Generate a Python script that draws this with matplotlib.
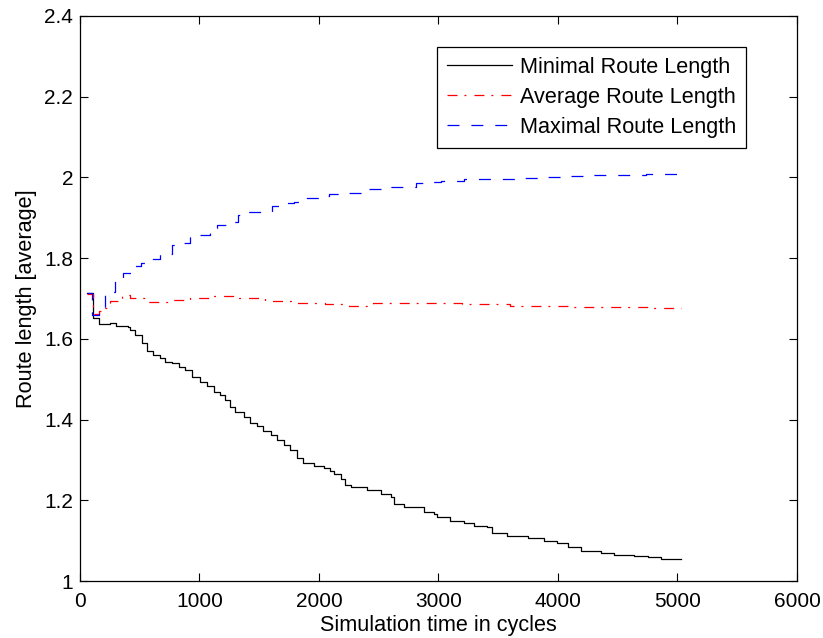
import numpy as np
import matplotlib
matplotlib.use("Agg")
import matplotlib.pyplot as plt

# route length over simulation time

min_x = [60, 105, 160, 250, 305, 400, 420, 460, 515, 560, 615, 670, 710, 770,
         825, 880, 935, 1005, 1060, 1120, 1175, 1215, 1255, 1300, 1370, 1425,
         1480, 1535, 1595, 1650, 1705, 1760, 1815, 1870, 1955, 2040, 2095, 2125,
         2180, 2220, 2265, 2400, 2515, 2600, 2625, 2710, 2810, 2880, 2960, 2990,
         3100, 3210, 3300, 3410, 3450, 3575, 3745, 3885, 3995, 4080, 4190, 4360,
         4470, 4640, 4750, 4860, 5030]
min_y = [1.713, 1.651, 1.637, 1.639, 1.633, 1.630, 1.622, 1.610, 1.590, 1.571,
         1.560, 1.552, 1.543, 1.541, 1.531, 1.523, 1.506, 1.494, 1.482, 1.469,
         1.461, 1.449, 1.432, 1.420, 1.407, 1.391, 1.384, 1.372, 1.362, 1.349,
         1.337, 1.325, 1.304, 1.292, 1.285, 1.279, 1.273, 1.265, 1.254, 1.238,
         1.234, 1.226, 1.216, 1.207, 1.191, 1.184, 1.183, 1.172, 1.166, 1.158,
         1.149, 1.143, 1.136, 1.133, 1.120, 1.112, 1.106, 1.100, 1.093, 1.084,
         1.075, 1.070, 1.064, 1.063, 1.059, 1.055, 1.054]

avg_x = [60, 110, 160, 210, 250, 350, 420, 550, 750, 920, 1100, 1300, 1550,
         1800, 2050, 2250, 2450, 2750, 3000, 3200, 3400, 3600, 3850, 4100,
         4300, 4550, 4800, 5030]
avg_y = [1.711, 1.662, 1.669, 1.676, 1.695, 1.709, 1.700, 1.692, 1.697, 1.700,
         1.706, 1.700, 1.695, 1.688, 1.687, 1.682, 1.688, 1.690, 1.689, 1.687,
         1.686, 1.682, 1.681, 1.679, 1.680, 1.680, 1.677, 1.677]

max_x = [60, 100, 160, 210, 290, 360, 430, 510, 590, 670, 770, 850, 920, 1000,
         1090, 1150, 1240, 1320, 1410, 1610, 1680, 1790, 1870, 1990, 2080, 2180,
         2390, 2600, 2810, 2910, 3020, 3210, 3420, 3630, 3860, 4070, 4290, 4740,
         4950, 5030]
max_y = [1.713, 1.659, 1.672, 1.717, 1.750, 1.764, 1.781, 1.789, 1.797, 1.810,
         1.833, 1.837, 1.852, 1.858, 1.875, 1.882, 1.890, 1.907, 1.915, 1.930,
         1.937, 1.940, 1.950, 1.955, 1.959, 1.962, 1.971, 1.977, 1.985, 1.989,
         1.992, 1.995, 1.997, 1.999, 2.002, 2.004, 2.005, 2.008, 2.009, 2.009]

plt.rcParams['font.family'] = ['Liberation Sans', 'DejaVu Sans']
plt.rcParams['font.size'] = 15
plt.rcParams['lines.scale_dashes'] = False

fig = plt.figure(figsize=(8.23, 6.38), dpi=100)
ax = fig.add_axes([0.0972, 0.0893, 0.8712, 0.8857])

lw = 0.9
ax.plot(min_x, min_y, color='k', lw=lw, drawstyle='steps-post',
        label='Minimal Route Length')
ax.plot(avg_x, avg_y, color='r', lw=lw, drawstyle='steps-post',
        linestyle=(0, (7.2, 5.0, 1.4, 5.8)), label='Average Route Length')
ax.plot(max_x, max_y, color='b', lw=lw, drawstyle='steps-post',
        linestyle=(0, (8.6, 8.6)), label='Maximal Route Length')

ax.set_xlim(0, 6000)
ax.set_ylim(1, 2.4)
ax.set_xticks(np.arange(0, 6001, 1000))
ax.set_yticks([1, 1.2, 1.4, 1.6, 1.8, 2, 2.2, 2.4])
ax.set_yticklabels(['1', '1.2', '1.4', '1.6', '1.8', '2', '2.2', '2.4'])
ax.tick_params(direction='in', top=True, right=True, length=6, width=0.8,
               labelsize=15)
ax.tick_params(axis='x', pad=8)
ax.tick_params(axis='y', pad=5)
for s in ax.spines.values():
    s.set_linewidth(0.9)

ax.set_xlabel('Simulation time in cycles', fontsize=15.6, labelpad=3)
ax.set_ylabel('Route length [average]', fontsize=15.6, labelpad=5)

leg = ax.legend(loc='upper right', bbox_to_anchor=(0.929, 0.945),
                fancybox=False, edgecolor='k', framealpha=1, fontsize=15.6,
                handlelength=3.0, handletextpad=0.37, labelspacing=0.42,
                borderpad=0.45, borderaxespad=0)
leg.get_frame().set_linewidth(0.9)

fig.savefig('out.png', dpi=100)
